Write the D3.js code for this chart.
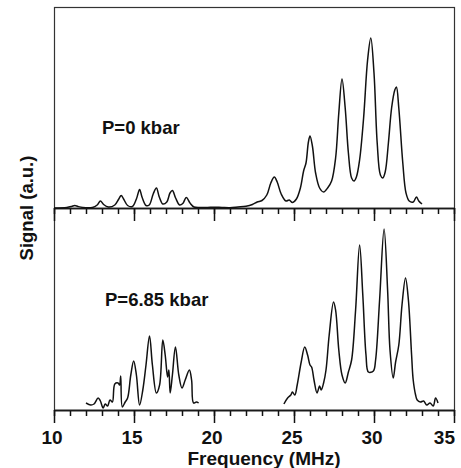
<!DOCTYPE html>
<html>
<head>
<meta charset="utf-8">
<script src="https://cdn.jsdelivr.net/npm/d3@7"></script>
<style>
  body { margin: 0; background: #fff; }
  svg text { font-family: "Liberation Sans", Arial, Helvetica, sans-serif; font-weight: bold; fill: #111; }
</style>
</head>
<body>
<svg id="chart"></svg>
<script>
// frequency (MHz) / signal (a.u.)
const freqTop = [10.0, 10.8, 11.1, 11.3, 11.5, 11.8, 12.4, 12.7, 12.9, 13.1, 13.4, 13.8, 14.05, 14.2, 14.35, 14.6, 14.9, 15.15, 15.35, 15.5, 15.75, 15.95, 16.2, 16.4, 16.58, 16.8, 17.05, 17.25, 17.4, 17.6, 17.85, 18.05, 18.27, 18.5, 18.75, 19.2, 19.6, 20.0, 20.5, 21.0, 21.5, 22.0, 22.4, 22.7, 23.0, 23.3, 23.55, 23.77, 23.95, 24.2, 24.5, 24.7, 24.9, 25.15, 25.4, 25.6, 25.75, 25.9, 26.0, 26.15, 26.35, 26.6, 26.85, 27.1, 27.35, 27.6, 27.8, 28.0, 28.2, 28.4, 28.6, 28.75, 28.9, 29.1, 29.35, 29.6, 29.8, 30.0, 30.2, 30.4, 30.55, 30.7, 30.9, 31.1, 31.3, 31.4, 31.55, 31.8, 32.0, 32.2, 32.45, 32.65, 32.8, 33.0];
const signalTop = [0, 0.5, 1.5, 2.5, 1.5, 0.5, 0.5, 3, 7, 3.5, 1, 3, 9, 12.5, 9, 2.5, 1.5, 9, 18.5, 11, 2.5, 3, 14, 20, 11, 4, 6, 15, 17.5, 10, 3, 4.5, 10.5, 5, 1, 0.5, 0.5, 0.8, 0.5, 0.3, 1, 1.8, 3.5, 6, 7.5, 13, 25, 31, 26, 14, 7, 8, 5.5, 9, 20, 37, 45, 66, 72, 62, 35, 20, 16, 20, 27, 50, 95, 129, 100, 55, 30, 27, 31, 48, 90, 148, 170, 135, 65, 33, 30, 36, 65, 100, 118, 121, 100, 45, 15, 7, 6, 11, 7, 4];

const freqBottomLow = [12.0, 12.3, 12.5, 12.76, 12.9, 13.07, 13.2, 13.35, 13.5, 13.65, 13.8, 14.0, 14.1, 14.17, 14.27, 14.45, 14.6, 14.8, 14.98, 15.15, 15.35, 15.55, 15.75, 15.97, 16.15, 16.4, 16.6, 16.8, 16.95, 17.1, 17.18, 17.26, 17.4, 17.59, 17.8, 18.0, 18.2, 18.46, 18.6, 18.72, 18.9, 19.04];
const signalBottomLow = [7, 5, 6, 12, 9, 2, 6, 4, 10, 8, 26, 27, 25, 34, 3, 8, 12, 35, 49, 35, 5, 20, 45, 74, 45, 17, 25, 70, 55, 33, 40, 17, 35, 63, 35, 22, 30, 40, 30, 7, 8, 7];

const freqBottomHigh = [24.37, 24.6, 24.8, 24.9, 25.05, 25.2, 25.45, 25.67, 25.85, 26.0, 26.1, 26.25, 26.44, 26.6, 26.7, 26.85, 27.0, 27.2, 27.47, 27.6, 27.8, 28.0, 28.2, 28.4, 28.6, 28.85, 29.1, 29.3, 29.5, 29.65, 29.96, 30.1, 30.35, 30.63, 30.85, 31.0, 31.2, 31.35, 31.55, 31.75, 31.97, 32.15, 32.35, 32.45, 32.6, 32.7, 32.9, 33.1, 33.3, 33.5, 33.7, 33.85, 34.0];
const signalBottomHigh = [6, 12, 15, 18, 15, 25, 48, 63, 55, 45, 43, 30, 17, 24, 20, 27, 40, 75, 108, 100, 60, 35, 27, 38, 50, 100, 165, 115, 55, 38, 39, 50, 110, 181, 120, 60, 32, 48, 65, 105, 132, 110, 55, 30, 15, 10, 8, 9, 5, 7, 4, 12, 7];

const panelLabels = ["P=0 kbar", "P=6.85 kbar"];
const xTicks = [10, 15, 20, 25, 30, 35];
const xMinorTicks = d3.range(10, 36, 1);

const width = 461, height = 468;
const margin = { left: 54, right: 7, top: 7, bottom: 58 };

const svg = d3.select("#chart").attr("width", width).attr("height", height);

const x = d3.scaleLinear().domain([10, 35]).range([margin.left, width - margin.right]);
const midY = 208;
const bottomY = height - margin.bottom;

const yTop = d3.scaleLinear().domain([0, 200]).range([midY, midY - 200]);
const yBottom = d3.scaleLinear().domain([0, 200]).range([bottomY, bottomY - 200]);

const zip = (xs, ys) => xs.map((f, i) => ({ f, s: ys[i] }));

// frame
svg.append("rect")
  .attr("x", margin.left + 0.5).attr("y", margin.top + 0.5)
  .attr("width", x(35) - x(10)).attr("height", bottomY - margin.top)
  .attr("fill", "none").attr("stroke", "#333").attr("stroke-width", 1.2);

// axes: minor every 1 MHz, major every 5
function drawAxis(yPos) {
  const g = svg.append("g").attr("transform", `translate(0,${yPos})`);
  g.append("g").attr("class", "minor")
    .call(d3.axisBottom(x).tickValues(xMinorTicks).tickSize(6).tickSizeOuter(0).tickFormat(""));
  g.append("g").attr("class", "major")
    .call(d3.axisBottom(x).tickValues(xTicks).tickSize(13).tickSizeOuter(0).tickFormat(""));
  g.selectAll("path.domain").attr("stroke", "#1a1a1a").attr("stroke-width", 1.3);
  g.selectAll(".tick line").attr("stroke", "#111").attr("stroke-width", 1.5);
  return g;
}
drawAxis(midY);
const bottomAxis = drawAxis(bottomY);

bottomAxis.selectAll(".tick-label")
  .data(xTicks)
  .enter().append("text")
  .attr("class", "tick-label")
  .attr("x", d => d === 35 ? x(d) + 1 : x(d) - 2)
  .attr("y", 34)
  .attr("text-anchor", d => d === 35 ? "end" : "middle")
  .style("font-size", "19px")
  .text(d => d);

const line = (y) => d3.line().x(d => x(d.f)).y(d => y(d.s)).curve(d3.curveCatmullRom.alpha(0.5));

const traces = svg.append("g").attr("class", "traces");
traces.append("path").datum(zip(freqTop, signalTop))
  .attr("d", line(yTop)).attr("fill", "none").attr("stroke", "#111").attr("stroke-width", 1.5);
traces.append("path").datum(zip(freqBottomLow, signalBottomLow))
  .attr("d", line(yBottom)).attr("fill", "none").attr("stroke", "#111").attr("stroke-width", 1.5);
traces.append("path").datum(zip(freqBottomHigh, signalBottomHigh))
  .attr("d", line(yBottom)).attr("fill", "none").attr("stroke", "#111").attr("stroke-width", 1.5);

// panel labels
svg.append("text").attr("x", 102).attr("y", 134).style("font-size", "18.5px").text(panelLabels[0]);
svg.append("text").attr("x", 105).attr("y", 306).style("font-size", "18.5px").text(panelLabels[1]);

// axis titles
svg.append("text")
  .attr("x", (x(10) + x(35)) / 2 + 10).attr("y", 465)
  .attr("text-anchor", "middle").style("font-size", "19px")
  .text("Frequency (MHz)");

svg.append("text")
  .attr("transform", `translate(33,${midY}) rotate(-90)`)
  .attr("text-anchor", "middle").style("font-size", "18.5px")
  .text("Signal (a.u.)");
</script>
</body>
</html>
